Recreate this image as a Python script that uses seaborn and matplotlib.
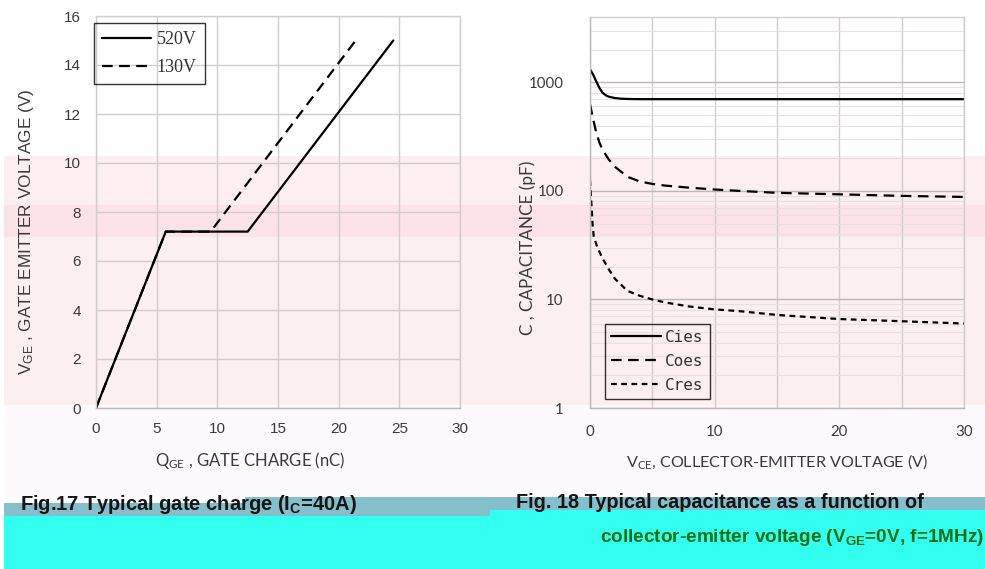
import numpy as np
import pandas as pd
import matplotlib
matplotlib.use("Agg")
import matplotlib.pyplot as plt
from matplotlib.patches import Rectangle
from matplotlib.ticker import MultipleLocator, FixedLocator, LogLocator, NullFormatter, FuncFormatter
import seaborn as sns

# ---- Fig.17 gate charge data (Q in nC, V in V) ----
q_520 = [0.0, 5.75, 12.5, 24.5]
v_520 = [0.0, 7.2, 7.2, 15.0]
q_130 = [0.0, 5.75, 9.45, 21.4]
v_130 = [0.0, 7.2, 7.2, 15.0]

# ---- Fig.18 capacitance data (VCE in V, C in pF) ----
vce_ies = [0.0, 0.25, 0.5, 0.75, 1.0, 1.25, 1.5, 2.0, 2.5, 3.0, 4.0, 5.0, 10.0, 15.0, 20.0, 25.0, 30.0]
cies = [1320, 1180, 1020, 890, 805, 762, 738, 717, 707, 703, 700, 700, 700, 700, 700, 700, 700]
vce_oes = [0.0, 0.25, 0.5, 0.75, 1.0, 1.5, 2.0, 3.0, 4.0, 5.0, 6.0, 8.0, 10.0, 12.0, 15.0, 20.0, 25.0, 30.0]
coes = [630, 460, 345, 280, 240, 195, 167, 135, 122, 116, 112, 107, 103, 100, 96, 93, 90, 88]
vce_res = [0.0, 0.1, 0.2, 0.3, 0.6, 1.0, 1.5, 2.0, 3.0, 4.0, 5.0, 6.0, 8.0, 10.0, 12.0, 15.0, 20.0, 25.0, 30.0]
cres = [126, 80, 50, 38, 30, 24, 19, 15.5, 12, 10.8, 10, 9.4, 8.6, 8.1, 7.8, 7.2, 6.6, 6.3, 6.0]

gate_df = pd.concat([
    pd.DataFrame({"Q": q_520, "V": v_520, "curve": "520V"}),
    pd.DataFrame({"Q": q_130, "V": v_130, "curve": "130V"}),
])
cap_df = pd.concat([
    pd.DataFrame({"V": vce_ies, "C": cies, "curve": "Cies"}),
    pd.DataFrame({"V": vce_oes, "C": coes, "curve": "Coes"}),
    pd.DataFrame({"V": vce_res, "C": cres, "curve": "Cres"}),
])

sns.set_theme(style="white")
plt.rcParams["font.family"] = ["Liberation Sans", "DejaVu Sans"]
plt.rcParams["mathtext.default"] = "regular"

W, H = 985, 569
fig = plt.figure(figsize=(W / 100, H / 100), dpi=100)
fig.patch.set_facecolor("white")


def px_rect(x0, y0, x1, y1, color):
    fig.add_artist(Rectangle((x0 / W, 1 - y1 / H), (x1 - x0) / W, (y1 - y0) / H,
                             transform=fig.transFigure, facecolor=color,
                             edgecolor="none", zorder=-5))


# background colour bands
px_rect(4, 156, W, 205, "#fdeef1")
px_rect(4, 205, W, 237, "#fce3e7")
px_rect(4, 237, W, 405, "#fbf0ef")
px_rect(4, 405, W, 497, "#fdf9fc")
px_rect(4, 503, 245, 516, "#84bfcb")
px_rect(245, 497, 490, 516, "#84bfcb")
px_rect(490, 497, W, 510, "#84bfcb")
px_rect(4, 516, 490, H, "#33fff0")
px_rect(490, 510, W, H, "#33fff0")

grid_c = "#d2cccc"
tick_c = "#3a3a3a"
lbl_c = "#3a3a3a"


def axes_px(x0, y0, x1, y1):
    return fig.add_axes([x0 / W, 1 - y1 / H, (x1 - x0) / W, (y1 - y0) / H])


# ================= Gate charge =================
ax1 = axes_px(96, 16, 460, 408)
ax1.patch.set_alpha(0)
sns.lineplot(data=gate_df[gate_df.curve == "520V"], x="Q", y="V", ax=ax1,
             estimator=None, sort=False, label="520V", color="black", lw=1.6)
sns.lineplot(data=gate_df[gate_df.curve == "130V"], x="Q", y="V", ax=ax1,
             estimator=None, sort=False, label="130V", color="black", lw=1.6,
             linestyle=(0, (4.8, 2.9)))
ax1.set_xlim(0, 30)
ax1.set_ylim(0, 16)
ax1.xaxis.set_major_locator(MultipleLocator(5))
ax1.yaxis.set_major_locator(MultipleLocator(2))
ax1.grid(True, color=grid_c, lw=1.0)
for s in ax1.spines.values():
    s.set_color(grid_c)
    s.set_linewidth(1.0)
ax1.spines["bottom"].set_color("#bdb7b7")
ax1.tick_params(length=0, labelsize=11, colors=tick_c)
ax1.tick_params(axis="y", pad=11)
ax1.tick_params(axis="x", pad=10)
ax1.set_xlabel(r"Q$_{GE}$ , GATE CHARGE (nC)", fontsize=12, color=lbl_c,
               fontfamily="Lato")
ax1.set_ylabel(r"V$_{GE}$ , GATE EMITTER VOLTAGE (V)", fontsize=12.4, color=lbl_c)
ax1.xaxis.set_label_coords(0.423, -0.107)
ax1.yaxis.set_label_coords(-0.165, 0.449)
leg1 = ax1.legend(loc="upper left", bbox_to_anchor=(-0.005, 0.982), borderaxespad=0,
                  prop={"family": "Liberation Serif", "size": 13},
                  handlelength=2.7, handletextpad=0.3, labelspacing=0.6,
                  frameon=True, fancybox=False, borderpad=0.45)
leg1.get_frame().set_edgecolor("black")
leg1.get_frame().set_linewidth(1.0)
leg1.get_frame().set_facecolor("none")
for t in leg1.get_texts():
    t.set_color("#333333")

# ================= Capacitance =================
ax2 = axes_px(590, 17, 964, 408)
ax2.patch.set_alpha(0)
ls = {"Cies": "-", "Coes": (0, (4.8, 2.9)), "Cres": (0, (2.6, 2.0))}
for name in ["Cies", "Coes", "Cres"]:
    sns.lineplot(data=cap_df[cap_df.curve == name], x="V", y="C", ax=ax2,
                 estimator=None, sort=False, label=name, color="black", lw=1.6,
                 linestyle=ls[name])
ax2.set_yscale("log")
ax2.set_xlim(0, 30)
ax2.set_ylim(1, 4000)
ax2.xaxis.set_major_locator(FixedLocator([0, 10, 20, 30]))
ax2.xaxis.set_minor_locator(FixedLocator([5, 15, 25]))
ax2.yaxis.set_major_locator(FixedLocator([1, 10, 100, 1000]))
ax2.yaxis.set_major_formatter(FuncFormatter(lambda v, p: f"{int(v)}"))
ax2.yaxis.set_minor_locator(LogLocator(base=10, subs=np.arange(2, 10)))
ax2.yaxis.set_minor_formatter(NullFormatter())
ax2.grid(True, which="major", axis="y", color="#bdb7b7", lw=1.0)
ax2.grid(True, which="minor", axis="y", color="#e6e0e0", lw=0.8)
ax2.grid(True, which="both", axis="x", color=grid_c, lw=1.0)
for s in ax2.spines.values():
    s.set_color(grid_c)
    s.set_linewidth(1.0)
ax2.spines["bottom"].set_color("#bdb7b7")
ax2.spines["left"].set_color("#bdb7b7")
ax2.tick_params(which="both", length=0, labelsize=10.8, colors=tick_c)
ax2.tick_params(axis="y", pad=19)
ax2.tick_params(axis="x", pad=12)
for t in ax2.get_xticklabels() + ax2.get_yticklabels():
    t.set_fontfamily("Lato")
ax2.set_xlabel(r"V$_{CE}$, COLLECTOR-EMITTER VOLTAGE (V)", fontsize=11.6,
               color=lbl_c, fontfamily="Lato")
ax2.set_ylabel(r"C , CAPACITANCE (pF)", fontsize=12.3, color=lbl_c, fontfamily="Lato")
ax2.xaxis.set_label_coords(0.5, -0.112)
ax2.yaxis.set_label_coords(-0.144, 0.41)
leg2 = ax2.legend(loc="lower left", bbox_to_anchor=(0.04, 0.023), borderaxespad=0,
                  prop={"family": "DejaVu Sans Mono", "size": 11.5},
                  handlelength=3.1, handletextpad=0.25, labelspacing=0.55,
                  frameon=True, fancybox=False, borderpad=0.4)
leg2.get_frame().set_edgecolor("black")
leg2.get_frame().set_linewidth(1.0)
leg2.get_frame().set_facecolor("none")
for t in leg2.get_texts():
    t.set_color("#333333")

# ================= Captions =================
fig.text(20 / W, 1 - 505 / H, r"Fig.17 Typical gate charge (I$_C$=40A)",
         fontsize=14.5, fontweight="bold", color="#151515", ha="left", va="center")
fig.text(516 / W, 1 - 503 / H, "Fig. 18 Typical capacitance as a function of",
         fontsize=14.3, fontweight="bold", color="#151515", ha="left", va="center")
fig.text(600 / W, 1 - 538 / H, r"collector-emitter voltage (V$_{GE}$=0V, f=1MHz)",
         fontsize=13.7, fontweight="bold", color="#0e6f14", ha="left", va="center")

fig.savefig("out.png", dpi=100)
